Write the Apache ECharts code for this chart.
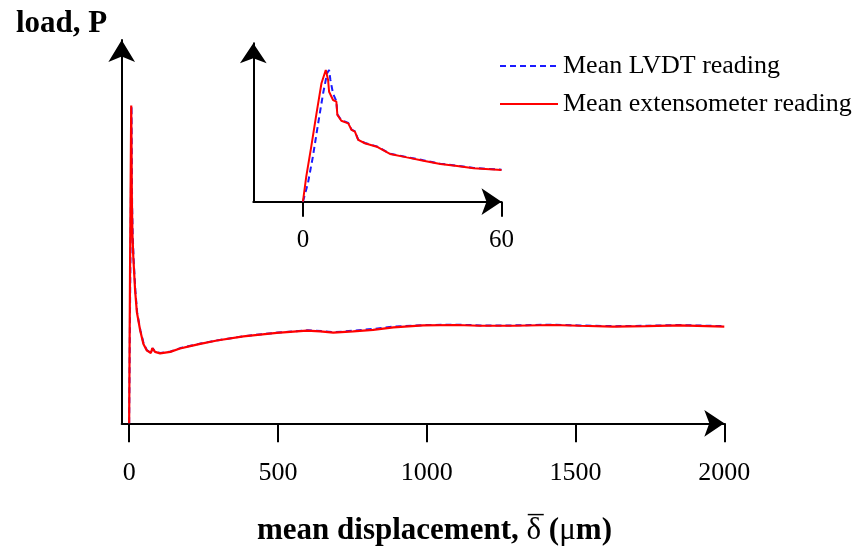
<!DOCTYPE html>
<html>
<head>
<meta charset="utf-8">
<script src="https://cdn.jsdelivr.net/npm/echarts@6/dist/echarts.min.js"></script>
<style>
html,body{margin:0;padding:0;background:#fff;}
#chart{width:856px;height:552px;}
</style>
</head>
<body>
<div id="chart"></div>
<script>
// ---- data (displacement in µm, load in arbitrary units) ----
var seriesNames = ['Mean LVDT reading', 'Mean extensometer reading'];
var mainTicks = [0, 500, 1000, 1500, 2000];
var insetTicks = [0, 60];

// main plot, extensometer
var mainExtX = [0, 3, 7, 9, 11, 14, 20, 26, 37, 48, 59, 73, 78, 87, 104, 138, 171, 205, 239, 295, 384, 496, 597, 642, 686, 753, 820, 888, 988, 1100, 1178, 1290, 1424, 1514, 1626, 1738, 1850, 2000];
var mainExtY = [0, 40, 84.1, 60, 50, 44, 35.2, 29.4, 24.6, 21, 19.3, 18.6, 19.9, 18.9, 18.5, 18.9, 19.8, 20.4, 21.0, 21.9, 23.0, 23.9, 24.5, 24.3, 24.0, 24.3, 24.7, 25.4, 25.9, 26.0, 25.8, 25.8, 26.0, 25.8, 25.6, 25.7, 25.9, 25.6];
// main plot, LVDT
var mainLvdtX = [0, 4, 8, 10, 12, 15, 21, 27, 38, 49, 60, 74, 79, 88, 105, 140, 172, 206, 240, 300, 390, 500, 600, 645, 690, 755, 825, 890, 990, 1100, 1180, 1290, 1420, 1510, 1630, 1740, 1850, 2000];
var mainLvdtY = [0, 40, 84, 58, 50, 43.5, 35, 29.2, 24.5, 21, 19.3, 18.7, 19.8, 18.9, 18.6, 19.0, 19.9, 20.5, 21.1, 22.0, 23.1, 24.0, 24.6, 24.4, 24.1, 24.5, 25.0, 25.6, 26.0, 26.1, 25.9, 25.9, 26.1, 25.9, 25.7, 25.8, 26.0, 25.7];

// inset (0-60 µm), extensometer
var insetExtX = [0, 1.0, 2.5, 4.1, 5.6, 6.9, 7.3, 7.6, 7.9, 9.1, 10.1, 10.4, 11.6, 13.7, 14.7, 15.7, 16.7, 18.7, 22.3, 26.3, 31.4, 36.4, 41.5, 46.6, 51.6, 60];
var insetExtY = [0, 16, 35, 56.4, 75.6, 84.1, 83, 77.7, 70.2, 64.9, 63.9, 55.4, 51.7, 50, 45.8, 44.7, 39.4, 37.3, 35.1, 30.5, 28.3, 26.2, 24.1, 22.8, 21.3, 20.2];
// inset, LVDT
var insetLvdtX = [0, 1.5, 3.0, 4.6, 6.1, 7.3, 7.9, 8.3, 9.1, 10.1, 10.4, 11.6, 13.7, 14.7, 15.7, 16.7, 18.7, 22.3, 26.3, 31.4, 36.4, 41.5, 46.6, 51.6, 60];
var insetLvdtY = [0, 11.7, 28.7, 50, 69.2, 82, 84.1, 77.7, 69, 64.2, 55.8, 52, 50.3, 46, 44.9, 39.6, 37.5, 35.3, 30.7, 28.5, 26.4, 24.3, 23, 21.5, 20.4];

function pairs(xs, ys) { return xs.map(function (x, i) { return [x, ys[i]]; }); }
function plain(v) { return String(v); }

var serif = "'Liberation Serif', 'Times New Roman', serif";
var axisLineStyle = { color: '#000', width: 2 };

var chart = echarts.init(document.getElementById('chart'));
chart.setOption({
  animation: false,
  backgroundColor: '#fff',
  title: [
    { text: 'load, P', left: 11, top: 3,
      textStyle: { fontFamily: serif, fontWeight: 'bold', fontSize: 31, lineHeight: 31, color: '#000' } },
    { text: '{b|mean displacement, }{n|δ}{b| (}{n|μ}{b|m)}', left: 252, top: 510,
      textStyle: { rich: {
        b: { fontFamily: serif, fontWeight: 'bold', fontSize: 31, lineHeight: 31, color: '#000' },
        n: { fontFamily: serif, fontWeight: 'normal', fontSize: 31, lineHeight: 31, color: '#000' }
      } } },
    { text: '\u00AF', left: 523, top: 509,
      textStyle: { fontFamily: serif, fontWeight: 'normal', fontSize: 31, lineHeight: 31, color: '#000' } }
  ],
  legend: {
    orient: 'vertical', left: 494, top: 48,
    itemWidth: 58, itemHeight: 14, itemGap: 12,
    data: seriesNames,
    itemStyle: { opacity: 0, borderWidth: 0 },
    textStyle: { fontFamily: serif, fontSize: 26, lineHeight: 26, color: '#000' }
  },
  grid: [
    { left: 121.7, right: 131.7, top: 40, bottom: 128.7, containLabel: false },
    { left: 253.3, right: 354.5, top: 43.3, bottom: 350.3, containLabel: false }
  ],
  xAxis: [
    { type: 'value', gridIndex: 0, min: -25, max: 2000,
      axisLine: { show: true, onZero: false, lineStyle: axisLineStyle, symbol: ['none', 'arrow'], symbolSize: [20, 20], symbolOffset: [0, 0] },
      axisTick: { show: true, inside: false, length: 19, lineStyle: { color: '#000', width: 2 }, customValues: mainTicks },
      axisLabel: { show: true, margin: 37, fontFamily: serif, fontSize: 26, color: '#000', customValues: mainTicks, formatter: plain },
      splitLine: { show: false } },
    { type: 'value', gridIndex: 1, min: -15, max: 60,
      axisLine: { show: true, onZero: false, lineStyle: axisLineStyle, symbol: ['none', 'arrow'], symbolSize: [20, 20], symbolOffset: [0, 0] },
      axisTick: { show: true, inside: false, length: 15, lineStyle: { color: '#000', width: 2 }, customValues: insetTicks },
      axisLabel: { show: true, margin: 26, fontFamily: serif, fontSize: 25, color: '#000', customValues: insetTicks, formatter: plain },
      splitLine: { show: false } }
  ],
  yAxis: [
    { type: 'value', gridIndex: 0, min: 0, max: 101.4,
      axisLine: { show: true, onZero: false, lineStyle: axisLineStyle, symbol: ['none', 'arrow'], symbolSize: [20, 22], symbolOffset: [0, 0] },
      axisTick: { show: false }, axisLabel: { show: false }, splitLine: { show: false } },
    { type: 'value', gridIndex: 1, min: 0, max: 101.1,
      axisLine: { show: true, onZero: false, lineStyle: axisLineStyle, symbol: ['none', 'arrow'], symbolSize: [20, 20], symbolOffset: [0, 0] },
      axisTick: { show: false }, axisLabel: { show: false }, splitLine: { show: false } }
  ],
  series: [
    { name: seriesNames[0], type: 'line', xAxisIndex: 0, yAxisIndex: 0, data: pairs(mainLvdtX, mainLvdtY),
      symbol: 'none', lineStyle: { color: '#1a1aff', width: 2, type: [6, 4] }, itemStyle: { color: '#1a1aff' } },
    { name: seriesNames[1], type: 'line', xAxisIndex: 0, yAxisIndex: 0, data: pairs(mainExtX, mainExtY),
      symbol: 'none', lineStyle: { color: '#ff0000', width: 2.2 }, itemStyle: { color: '#ff0000' } },
    { name: seriesNames[0], type: 'line', xAxisIndex: 1, yAxisIndex: 1, data: pairs(insetLvdtX, insetLvdtY),
      symbol: 'none', lineStyle: { color: '#1a1aff', width: 2, type: [6, 4] }, itemStyle: { color: '#1a1aff' } },
    { name: seriesNames[1], type: 'line', xAxisIndex: 1, yAxisIndex: 1, data: pairs(insetExtX, insetExtY),
      symbol: 'none', lineStyle: { color: '#ff0000', width: 2 }, itemStyle: { color: '#ff0000' } }
  ]
});
</script>
</body>
</html>
